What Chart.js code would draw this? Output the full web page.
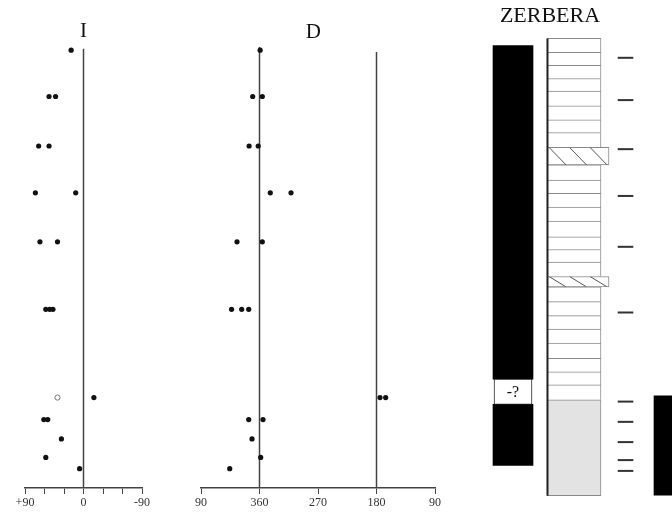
<!DOCTYPE html>
<html>
<head>
<meta charset="utf-8">
<script src="https://cdn.jsdelivr.net/npm/chart.js@4/dist/chart.umd.min.js"></script>
<style>
  html, body { margin: 0; padding: 0; background: #fff; }
  #wrap { position: relative; width: 672px; height: 514px; overflow: hidden; }
  canvas { position: absolute; top: 0; }
</style>
</head>
<body>
<div id="wrap">
  <canvas id="incChart" width="170" height="514" style="left:0"></canvas>
  <canvas id="decChart" width="280" height="514" style="left:170px"></canvas>
  <canvas id="logChart" width="222" height="514" style="left:450px"></canvas>
</div>
<script>
// stratigraphic level of each specimen (m below the top of the log)
const sampleLevel = [2.7, 13.0, 13.0, 24.0, 24.0, 34.4, 34.4, 45.3, 45.3, 60.3, 60.3, 60.3, 79.9, 79.9, 84.8, 84.8, 89.1, 93.2, 95.7];
const inclination = [19, 53, 43, 69, 53, 74, 12, 67, 40, 58, 52, 47, -16, 40, 61, 55, 34, 58, 6];
const declination = [359, 10.5, 355.7, 16, 2, 343.4, 311.5, 34.6, 355.7, 43, 27.4, 16.6, 174.6, 165.9, 16.6, 354.6, 11.5, 358.2, 45.8];
const upperHemisphere = [false, false, false, false, false, false, false, false, false, false, false, false, false, true, false, false, false, false, false];

// sampling sites marked beside the log
const siteLevel = [4.4, 13.8, 24.7, 35.1, 46.4, 61.0, 80.8, 85.3, 89.8, 93.8, 96.2];

// lithological log: bed boundaries and bed type
const bedBoundary = [0.1, 3.2, 6.1, 9.0, 11.8, 15.1, 18.2, 21.0, 24.3, 28.2, 31.6, 34.5, 37.6, 40.7, 44.2, 47.0, 49.8, 53.0, 55.3, 58.6, 61.7, 64.7, 67.8, 71.2, 74.2, 77.1, 80.4, 101.7];
const bedKind = ['bed', 'bed', 'bed', 'bed', 'bed', 'bed', 'bed', 'bed', 'hatched', 'bed', 'bed', 'bed', 'bed', 'bed', 'bed', 'bed', 'bed', 'hatched', 'bed', 'bed', 'bed', 'bed', 'bed', 'bed', 'bed', 'bed', 'shaded'];

// magnetic polarity zones
const polarityTop = [1.7, 75.8, 81.4];
const polarityBottom = [75.8, 81.4, 95.0];
const polarityLabel = ['N', '-?', 'N'];
const nextSectionPolarity = [79.5, 101.6];

const SERIF = "'Liberation Serif', 'DejaVu Serif', serif";
const INK = '#111';
const LINE = '#444';

const titlePlugin = {
  id: 'panelTitle',
  afterDraw(chart, args, opts) {
    const ctx = chart.ctx;
    ctx.save();
    ctx.font = opts.size + 'px ' + SERIF;
    ctx.fillStyle = INK;
    ctx.textAlign = 'center';
    ctx.textBaseline = 'middle';
    ctx.fillText(opts.text, chart.scales.x.getPixelForValue(opts.value), opts.y);
    ctx.restore();
  }
};

function bottomAxis(extra) {
  return Object.assign({
    type: 'linear',
    reverse: true,
    grid: { drawOnChartArea: false, drawTicks: true, tickLength: 6, color: LINE, lineWidth: 1 },
    border: { display: true, color: LINE, width: 1.5 },
    afterFit: s => { s.height = 26; }
  }, extra);
}

const levelAxis = { display: false, min: 0, max: 100, reverse: true };

function dots(points, fill, stroke) {
  return {
    type: 'scatter', data: points, order: 0,
    pointRadius: 2.6, pointHoverRadius: 2.6,
    backgroundColor: fill, borderColor: stroke, borderWidth: stroke ? 1 : 0
  };
}

function vline(value, top) {
  return {
    type: 'line', order: 5,
    data: [{ x: value, y: top }, { x: value, y: 100 }],
    borderColor: LINE, borderWidth: 1.5, pointRadius: 0, fill: false
  };
}

// inclination
const incFilled = [], incOpen = [];
sampleLevel.forEach((lv, i) => {
  (upperHemisphere[i] ? incOpen : incFilled).push({ x: inclination[i], y: lv });
});

new Chart(document.getElementById('incChart'), {
  type: 'scatter',
  data: { datasets: [dots(incFilled, INK), dots(incOpen, '#fff', '#777'), vline(0, 2.4)] },
  options: {
    responsive: false, animation: false, events: [],
    layout: { autoPadding: false, padding: { left: 25, right: 28, top: 38, bottom: 0 } },
    scales: {
      x: bottomAxis({
        min: -90, max: 90,
        ticks: {
          stepSize: 30, autoSkip: false, maxRotation: 0, padding: 2,
          color: '#333', font: { family: SERIF, size: 12 },
          callback: v => v === 90 ? '+90' : v === 0 ? '0' : v === -90 ? '-90' : ''
        }
      }),
      y: levelAxis
    },
    plugins: { legend: { display: false }, tooltip: { enabled: false },
      panelTitle: { text: 'I', value: 0, y: 31, size: 21 } }
  },
  plugins: [titlePlugin]
});

// declination, plotted on a 90..450 axis so that north sits inside the frame
const decPlot = declination.map(d => d < 90 ? d + 360 : d);
const decPoints = sampleLevel.map((lv, i) => ({ x: decPlot[i], y: lv }));

new Chart(document.getElementById('decChart'), {
  type: 'scatter',
  data: { datasets: [dots(decPoints, INK), vline(360, 2.0), vline(180, 3.1)] },
  options: {
    responsive: false, animation: false, events: [],
    layout: { autoPadding: false, padding: { left: 31, right: 15, top: 38, bottom: 0 } },
    scales: {
      x: bottomAxis({
        min: 90, max: 450,
        ticks: {
          stepSize: 90, autoSkip: false, maxRotation: 0, padding: 2,
          color: '#333', font: { family: SERIF, size: 12 },
          callback: v => v > 360 ? v - 360 : v
        }
      }),
      y: levelAxis
    },
    plugins: { legend: { display: false }, tooltip: { enabled: false },
      panelTitle: { text: 'D', value: 277, y: 32, size: 21 } }
  },
  plugins: [titlePlugin]
});

// log panel: track centres and widths along a 0..222 layout axis
const TRACK = {
  polarity: { x: 63, w: 40 },
  gap: { x: 63, w: 38 },
  column: { x: 124, w: 54 },
  hatched: { x: 128, w: 62 },
  columnEdge: 97.5,
  sites: 175.5,
  nextSection: { x: 222, w: 36 }
};

function beds(kind, track) {
  const out = [];
  bedKind.forEach((k, i) => {
    if (k === kind) out.push({ x: track.x, y: [bedBoundary[i], bedBoundary[i + 1]] });
  });
  return out;
}

function barSet(points, track, fill, stroke, order, width) {
  return {
    type: 'bar', data: points, order,
    barThickness: track.w, grouped: false,
    backgroundColor: fill, borderColor: stroke || fill,
    borderWidth: width === undefined ? { top: 1, left: 1, right: 1, bottom: 0 } : width,
    borderSkipped: false
  };
}

const normalZones = [], gapZones = [];
polarityLabel.forEach((p, i) => {
  const pt = { x: TRACK.polarity.x, y: [polarityTop[i], polarityBottom[i]] };
  if (p === 'N') normalZones.push(pt); else gapZones.push({ x: TRACK.gap.x, y: pt.y });
});

const lastBed = bedBoundary[bedBoundary.length - 1];

const hatchPlugin = {
  id: 'bedHatch',
  afterDatasetsDraw(chart) {
    const { ctx, scales: { x, y } } = chart;
    ctx.save();
    // hatching of the wider beds
    bedKind.forEach((k, i) => {
      if (k !== 'hatched') return;
      const left = x.getPixelForValue(TRACK.hatched.x) - TRACK.hatched.w / 2;
      const top = y.getPixelForValue(bedBoundary[i]);
      const bottom = y.getPixelForValue(bedBoundary[i + 1]);
      ctx.save();
      ctx.beginPath();
      ctx.rect(left, top, TRACK.hatched.w, bottom - top);
      ctx.clip();
      ctx.strokeStyle = '#555';
      ctx.lineWidth = 1;
      for (let sx = left + 2; sx < left + TRACK.hatched.w; sx += 20.5) {
        ctx.beginPath();
        ctx.moveTo(sx, top);
        ctx.lineTo(sx + 17, bottom);
        ctx.stroke();
      }
      ctx.restore();
    });
    // label of the uncertain polarity interval
    polarityLabel.forEach((p, i) => {
      if (p === 'N') return;
      ctx.font = '16px ' + SERIF;
      ctx.fillStyle = INK;
      ctx.textAlign = 'center';
      ctx.textBaseline = 'middle';
      ctx.fillText(p, x.getPixelForValue(TRACK.gap.x),
        (y.getPixelForValue(polarityTop[i]) + y.getPixelForValue(polarityBottom[i])) / 2 + 1);
    });
    ctx.restore();
  }
};

new Chart(document.getElementById('logChart'), {
  type: 'bar',
  data: {
    datasets: [
      barSet(gapZones, TRACK.gap, '#fff', '#222', 0, 1),
      barSet(normalZones, TRACK.polarity, '#000', '#000', 1, 0),
      barSet([{ x: TRACK.nextSection.x, y: nextSectionPolarity }], TRACK.nextSection, '#000', '#000', 1, 0),
      {
        type: 'line', order: 0,
        data: [{ x: TRACK.columnEdge, y: bedBoundary[0] }, { x: TRACK.columnEdge, y: lastBed }],
        borderColor: '#222', borderWidth: 2, pointRadius: 0
      },
      {
        type: 'scatter', order: 0,
        data: siteLevel.map(lv => ({ x: TRACK.sites, y: lv })),
        pointStyle: 'line', pointRadius: 7.8, pointHoverRadius: 7.8,
        borderColor: '#333', borderWidth: 2
      },
      barSet(beds('hatched', TRACK.hatched), TRACK.hatched, '#fff', '#888', 2, { top: 1, left: 1, right: 1, bottom: 1 }),
      barSet(beds('shaded', TRACK.column), TRACK.column, '#e3e3e3', '#888', 3, { top: 1, left: 1, right: 1, bottom: 1 }),
      barSet(beds('bed', TRACK.column), TRACK.column, '#fff', '#8a8a8a', 4)
    ]
  },
  options: {
    responsive: false, animation: false, events: [],
    layout: { autoPadding: false, padding: { left: 0, right: 0, top: 38, bottom: 17 } },
    scales: {
      x: { type: 'linear', display: false, offset: false, min: 0, max: 222 },
      y: { display: false, min: 0, max: 102, reverse: true }
    },
    plugins: { legend: { display: false }, tooltip: { enabled: false },
      panelTitle: { text: 'ZERBERA', value: 100, y: 16, size: 22 } }
  },
  plugins: [titlePlugin, hatchPlugin]
});
</script>
</body>
</html>
